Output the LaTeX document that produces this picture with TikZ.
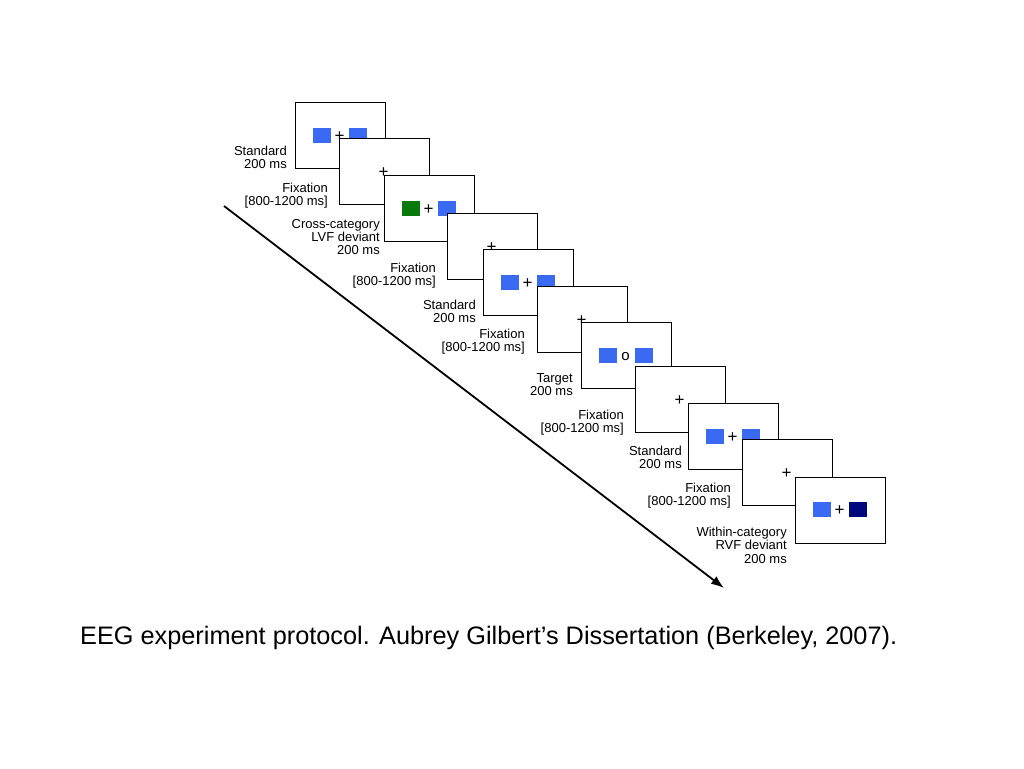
\documentclass[tikz,border=0pt]{standalone}
\usepackage{fontspec}
\setmainfont{Liberation Sans}
\usetikzlibrary{arrows.meta}
\definecolor{stdblue}{RGB}{58,105,242}
\definecolor{devgreen}{RGB}{8,122,12}
\definecolor{devnavy}{RGB}{0,8,125}
\tikzset{
  frame/.style={draw=black, fill=white, line width=1.4pt, minimum width=90pt, minimum height=66pt, inner sep=0pt, anchor=north west},
  sq/.style={minimum width=18pt, minimum height=15pt, inner sep=0pt, anchor=north west},
  fixmark/.style={inner sep=0pt, font=\fontsize{17}{17}\selectfont},
  lab/.style={inner sep=0pt, anchor=north east, align=right, font=\fontsize{13}{13.2}\selectfont},
  arrowline/.style={line width=1.8pt, -{Latex[length=13pt,width=9.5pt]}}
}
\begin{document}
\begin{tikzpicture}[x=1pt,y=-1pt]
\useasboundingbox (0,0) rectangle (1024,768);
\fill[white] (0,0) rectangle (1024,768);

% arrow
\coordinate (as) at (224,206);
\coordinate (ae) at (724,588);
\draw[arrowline] (as) -- (ae);

% frame 1: standard
\node[frame] (f1) at (295,102) {};
\node[sq, fill=stdblue] (f1l) at ([shift={(18,26)}]f1.north west) {};
\node[fixmark] (f1p) at ([shift={(44.5,35)}]f1.north west) {+};
\node[sq, fill=stdblue] (f1r) at ([shift={(54,26)}]f1.north west) {};
\node[lab] (lab1) at (287,146) {Standard\\200 ms};

% frame 2: fixation
\node[frame] (f2) at (339,138) {};
\node[fixmark] (f2p) at ([shift={(44.5,35)}]f2.north west) {+};
\node[lab] (lab2) at (328,183) {Fixation\\{[}800-1200 ms{]}};

% frame 3: cross-category deviant
\node[frame] (f3) at (384,175) {};
\node[sq, fill=devgreen] (f3l) at ([shift={(18,26)}]f3.north west) {};
\node[fixmark] (f3p) at ([shift={(44.5,35)}]f3.north west) {+};
\node[sq, fill=stdblue] (f3r) at ([shift={(54,26)}]f3.north west) {};
\node[lab] (lab3) at (380,219) {Cross-category\\LVF deviant\\200 ms};

% frame 4: fixation
\node[frame] (f4) at (447,213) {};
\node[fixmark] (f4p) at ([shift={(44.5,35)}]f4.north west) {+};
\node[lab] (lab4) at (436,263) {Fixation\\{[}800-1200 ms{]}};

% frame 5: standard
\node[frame] (f5) at (483,249) {};
\node[sq, fill=stdblue] (f5l) at ([shift={(18,26)}]f5.north west) {};
\node[fixmark] (f5p) at ([shift={(44.5,35)}]f5.north west) {+};
\node[sq, fill=stdblue] (f5r) at ([shift={(54,26)}]f5.north west) {};
\node[lab] (lab5) at (476,300) {Standard\\200 ms};

% frame 6: fixation
\node[frame] (f6) at (537,286) {};
\node[fixmark] (f6p) at ([shift={(44.5,35)}]f6.north west) {+};
\node[lab] (lab6) at (525,329) {Fixation\\{[}800-1200 ms{]}};

% frame 7: target
\node[frame] (f7) at (581,322) {};
\node[sq, fill=stdblue] (f7l) at ([shift={(18,26)}]f7.north west) {};
\node[inner sep=0pt, font=\fontsize{15}{15}\selectfont] (f7o) at ([shift={(44.5,35)}]f7.north west) {o};
\node[sq, fill=stdblue] (f7r) at ([shift={(54,26)}]f7.north west) {};
\node[lab] (lab7) at (573,373) {Target\\200 ms};

% frame 8: fixation
\node[frame] (f8) at (635,366) {};
\node[fixmark] (f8p) at ([shift={(44.5,35)}]f8.north west) {+};
\node[lab] (lab8) at (624,410) {Fixation\\{[}800-1200 ms{]}};

% frame 9: standard
\node[frame] (f9) at (688,403) {};
\node[sq, fill=stdblue] (f9l) at ([shift={(18,26)}]f9.north west) {};
\node[fixmark] (f9p) at ([shift={(44.5,35)}]f9.north west) {+};
\node[sq, fill=stdblue] (f9r) at ([shift={(54,26)}]f9.north west) {};
\node[lab] (lab9) at (682,446) {Standard\\200 ms};

% frame 10: fixation
\node[frame] (f10) at (742,439) {};
\node[fixmark] (f10p) at ([shift={(44.5,35)}]f10.north west) {+};
\node[lab] (lab10) at (731,483) {Fixation\\{[}800-1200 ms{]}};

% frame 11: within-category deviant
\node[frame] (f11) at (795,477) {};
\node[sq, fill=stdblue] (f11l) at ([shift={(18,25)}]f11.north west) {};
\node[fixmark] (f11p) at ([shift={(44.5,34)}]f11.north west) {+};
\node[sq, fill=devnavy] (f11r) at ([shift={(54,25)}]f11.north west) {};
\node[lab] (lab11) at (787,527) {Within-category\\RVF deviant\\200 ms};

% caption
\node[inner sep=0pt, anchor=base west, font=\fontsize{25.3}{30}\selectfont] (cap) at (80,644) {EEG experiment protocol. Aubrey Gilbert’s Dissertation (Berkeley, 2007).};
\end{tikzpicture}
\end{document}
